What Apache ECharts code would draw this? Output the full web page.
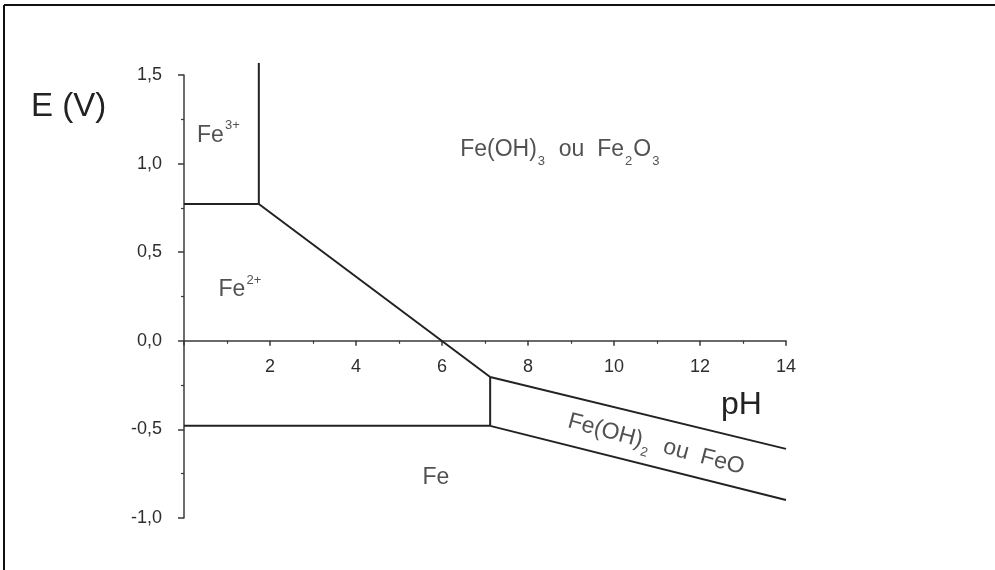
<!DOCTYPE html>
<html>
<head>
<meta charset="utf-8">
<script src="https://cdn.jsdelivr.net/npm/echarts@6/dist/echarts.min.js"></script>
<style>
html,body{margin:0;padding:0;background:#fff;}
#c{width:995px;height:570px;}
</style>
</head>
<body>
<div id="c"></div>
<script>
// Boundary lines of the Pourbaix diagram, [pH, E (V)]
const fe3Fe2Line = [[0, 0.772], [1.74, 0.772]];
const fe3FeOH3Line = [[1.74, 0.772], [1.74, 1.568]];
const fe2FeOH3Line = [[1.74, 0.772], [7.12, -0.204]];
const feOH2FeOH3Line = [[7.12, -0.204], [14, -0.61]];
const fe2FeOH2Line = [[7.12, -0.204], [7.12, -0.48]];
const feFe2Line = [[0, -0.48], [7.12, -0.48]];
const feFeOH2Line = [[7.12, -0.48], [14, -0.898]];

// Region labels: [pH, E, text]
const regionLabels = [
  [0.8, 1.16, '{m|Fe}{u|3+}'],
  [1.3, 0.287, '{m|Fe}{u|2+}'],
  [8.75, 1.076, '{m|Fe(OH)}{s|3}{m|  ou  Fe}{s|2}{m|O}{s|3}'],
  [5.86, -0.774, '{m|Fe}']
];
const rotatedLabel = [[10.98, -0.585, '{m|Fe(OH)}{s|2}{m|  ou  FeO}']];

// Tick labels
const xTickValues = [2, 4, 6, 8, 10, 12, 14];
const xTickLabels = ['2', '4', '6', '8', '10', '12', '14'];
const yTickValues = [-1, -0.5, 0, 0.5, 1, 1.5];
const yTickLabels = ['-1,0', '-0,5', '0,0', '0,5', '1,0', '1,5'];

const FONT = '"Liberation Sans", Arial, sans-serif';
const LINE = '#222';
const AXIS = '#3a3a3a';
const TXT = '#262626';

const rich = {
  m: {fontSize: 23, fontFamily: FONT, color: TXT, lineHeight: 27, verticalAlign: 'middle'},
  s: {fontSize: 13, fontFamily: FONT, color: TXT, lineHeight: 13, verticalAlign: 'bottom', padding: [0, 1, -4, 1]},
  u: {fontSize: 13, fontFamily: FONT, color: TXT, lineHeight: 13, verticalAlign: 'top', padding: [-3, 0, 0, 1]}
};

function lineSeries(data) {
  return {
    type: 'line', data: data, clip: false, symbol: 'none', silent: true,
    lineStyle: {color: LINE, width: 2}, animation: false
  };
}

const xAxisOpt = {
  type: 'value', min: 0, max: 14, interval: 2, position: 'bottom',
  axisLine: {onZero: false, lineStyle: {color: AXIS, width: 1.5}},
  axisTick: {show: true, length: 5, lineStyle: {color: AXIS, width: 1.5}},
  minorTick: {show: true, splitNumber: 2, length: 3, lineStyle: {color: AXIS, width: 1.2}},
  splitLine: {show: false},
  axisLabel: {
    showMinLabel: false, margin: 17, color: '#2e2e2e', fontSize: 18, fontFamily: FONT,
    formatter: v => { const i = xTickValues.indexOf(v); return i < 0 ? '' : xTickLabels[i]; }
  }
};

const chart = echarts.init(document.getElementById('c'), null, {renderer: 'canvas'});
chart.setOption({
  animation: false,
  backgroundColor: '#fff',
  grid: {left: 184, right: 209, top: 75, bottom: 52},
  xAxis: xAxisOpt,
  yAxis: {
    type: 'value', min: -1, max: 1.5, interval: 0.5,
    axisLine: {show: true, onZero: true, lineStyle: {color: AXIS, width: 1.5}},
    axisTick: {show: true, length: 6, lineStyle: {color: AXIS, width: 1.5}},
    minorTick: {show: true, splitNumber: 2, length: 3, lineStyle: {color: AXIS, width: 1.2}},
    splitLine: {show: false},
    axisLabel: {
      margin: 22, color: '#2e2e2e', fontSize: 18, fontFamily: FONT,
      formatter: v => { const i = yTickValues.findIndex(t => Math.abs(t - v) < 1e-9); return i < 0 ? '' : yTickLabels[i]; }
    }
  },
  series: [
    lineSeries(fe3Fe2Line),
    lineSeries(fe3FeOH3Line),
    lineSeries(fe2FeOH3Line),
    lineSeries(feOH2FeOH3Line),
    lineSeries(fe2FeOH2Line),
    lineSeries(feFe2Line),
    lineSeries(feFeOH2Line),
    {
      type: 'scatter', symbolSize: 0, silent: true,
      data: regionLabels.map(d => ({value: [d[0], d[1]], txt: d[2]})),
      label: {
        show: true, position: 'inside', align: 'center', verticalAlign: 'middle',
        formatter: p => p.data.txt, rich: rich
      }
    },
    {
      type: 'scatter', symbolSize: 0, silent: true,
      data: rotatedLabel.map(d => ({value: [d[0], d[1]], txt: d[2]})),
      label: {
        show: true, position: 'inside', align: 'center', verticalAlign: 'middle', rotate: -15,
        formatter: p => p.data.txt, rich: rich
      }
    }
  ],
  graphic: [
    {type: 'line', shape: {x1: 4, y1: 5, x2: 995, y2: 5}, style: {stroke: '#111', lineWidth: 2}},
    {type: 'line', shape: {x1: 4, y1: 5, x2: 4, y2: 570}, style: {stroke: '#111', lineWidth: 2}},
    {type: 'text', left: 31, top: 90, style: {text: 'E (V)', font: '33px "Liberation Sans", Arial, sans-serif', fill: '#222'}},
    {type: 'text', left: 721, top: 389, style: {text: 'pH', font: '32px "Liberation Sans", Arial, sans-serif', fill: '#222'}}
  ]
});
// Move the pH axis (with its labels) up to E = 0, using the chart's own scale
const yZero = chart.convertToPixel({yAxisIndex: 0}, 0);
const yMin = chart.convertToPixel({yAxisIndex: 0}, -1);
chart.setOption({xAxis: {offset: yZero - yMin}});
</script>
</body>
</html>
